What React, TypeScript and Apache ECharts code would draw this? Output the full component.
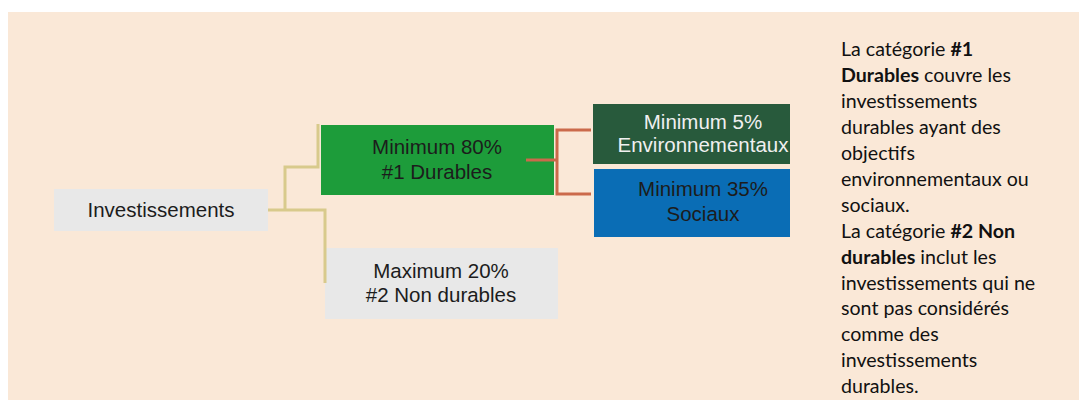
import React, { useEffect, useRef } from "react";
import * as echarts from "echarts";

// ---- diagram content ----
const rootLabel = "Investissements";
const branchBounds = ["Minimum", "Maximum"];
const branchShares = [80, 20];
const branchNames = ["#1 Durables", "#2 Non durables"];
const leafBounds = ["Minimum", "Minimum"];
const leafShares = [5, 35];
const leafNames = ["Environnementaux", "Sociaux"];
// note text: each line is a list of [text, bold]
const noteLines: [string, boolean][][] = [
  [["La catégorie ", false], ["#1", true]],
  [["Durables", true], [" couvre les", false]],
  [["investissements", false]],
  [["durables ayant des", false]],
  [["objectifs", false]],
  [["environnementaux ou", false]],
  [["sociaux.", false]],
  [["La catégorie ", false], ["#2 Non", true]],
  [["durables", true], [" inclut les", false]],
  [["investissements qui ne", false]],
  [["sont pas considérés", false]],
  [["comme des", false]],
  [["investissements", false]],
  [["durables.", false]],
];

const BG = "#FAE8D7";
const GRAY = "#E8E8E8";
const TAN = "#D8CA8C";
const ORANGE = "#CB6A4B";
const GREEN = "#1D9C3A";
const DARK_GREEN = "#285A3C";
const BLUE = "#0A6DB5";
const INK = "#1C1C1C";
const BOX_FONT = "Liberation Sans, Arial, sans-serif";

function boxText(x: number, y: number, text: string, fill: string, lineHeight: number) {
  return {
    type: "text",
    x,
    y,
    z: 10,
    style: {
      text,
      fill,
      fontFamily: BOX_FONT,
      fontSize: 20.5,
      lineHeight,
      align: "center",
      verticalAlign: "middle",
    },
  };
}

export default function App() {
  const ref = useRef<HTMLDivElement>(null);
  useEffect(() => {
    document.body.style.margin = "0";
    const chart = echarts.init(ref.current!, null, { renderer: "svg" });

    const lineStyle = (stroke: string) => ({ stroke, lineWidth: 3, fill: "none" });

    const noteText = noteLines
      .map((segs) => segs.map(([t, b]) => `{${b ? "b" : "n"}|${t}}`).join(""))
      .join("\n");

    const elements: any[] = [
      { type: "rect", shape: { x: 8, y: 12, width: 1071, height: 388 }, style: { fill: BG }, z: 0 },
      // boxes
      { type: "rect", shape: { x: 54, y: 189, width: 214, height: 42 }, style: { fill: GRAY }, z: 2 },
      { type: "rect", shape: { x: 321, y: 125, width: 233, height: 70 }, style: { fill: GREEN }, z: 2 },
      { type: "rect", shape: { x: 325, y: 248, width: 233, height: 71 }, style: { fill: GRAY }, z: 2 },
      { type: "rect", shape: { x: 593, y: 104, width: 197, height: 60 }, style: { fill: DARK_GREEN }, z: 2 },
      { type: "rect", shape: { x: 594, y: 169, width: 196, height: 68 }, style: { fill: BLUE }, z: 2 },
      // tan connectors
      { type: "polyline", shape: { points: [[268, 210], [325, 210], [325, 283]] }, style: lineStyle(TAN), z: 3 },
      { type: "polyline", shape: { points: [[285, 210], [285, 167], [318, 167], [318, 124]] }, style: lineStyle(TAN), z: 3 },
      // orange connectors
      { type: "polyline", shape: { points: [[526, 160], [557, 160]] }, style: lineStyle(ORANGE), z: 3 },
      { type: "polyline", shape: { points: [[591, 130], [557, 130], [557, 194], [591, 194]] }, style: lineStyle(ORANGE), z: 3 },
      // texts
      boxText(161, 209, rootLabel, INK, 25),
      boxText(437, 159, `${branchBounds[0]} ${branchShares[0]}%\n${branchNames[0]}`, INK, 25),
      boxText(441, 282, `${branchBounds[1]} ${branchShares[1]}%\n${branchNames[1]}`, INK, 24),
      boxText(703, 133, `${leafBounds[0]} ${leafShares[0]}%\n${leafNames[0]}`, "#F0F0F0", 23),
      boxText(703, 201, `${leafBounds[1]} ${leafShares[1]}%\n${leafNames[1]}`, INK, 25),
      {
        type: "text",
        x: 841,
        y: 36,
        z: 10,
        style: {
          text: noteText,
          align: "left",
          verticalAlign: "top",
          rich: {
            n: { fontFamily: "Lato, sans-serif", fontSize: 19.6, lineHeight: 25.9, fill: "#111" },
            b: { fontFamily: "Lato, sans-serif", fontSize: 19.6, lineHeight: 25.9, fill: "#111", fontWeight: "bold" },
          },
        },
      },
    ];

    chart.setOption({ animation: false, graphic: { elements } });
    return () => chart.dispose();
  }, []);
  return <div ref={ref} style={{ width: 1079, height: 404 }} />;
}
